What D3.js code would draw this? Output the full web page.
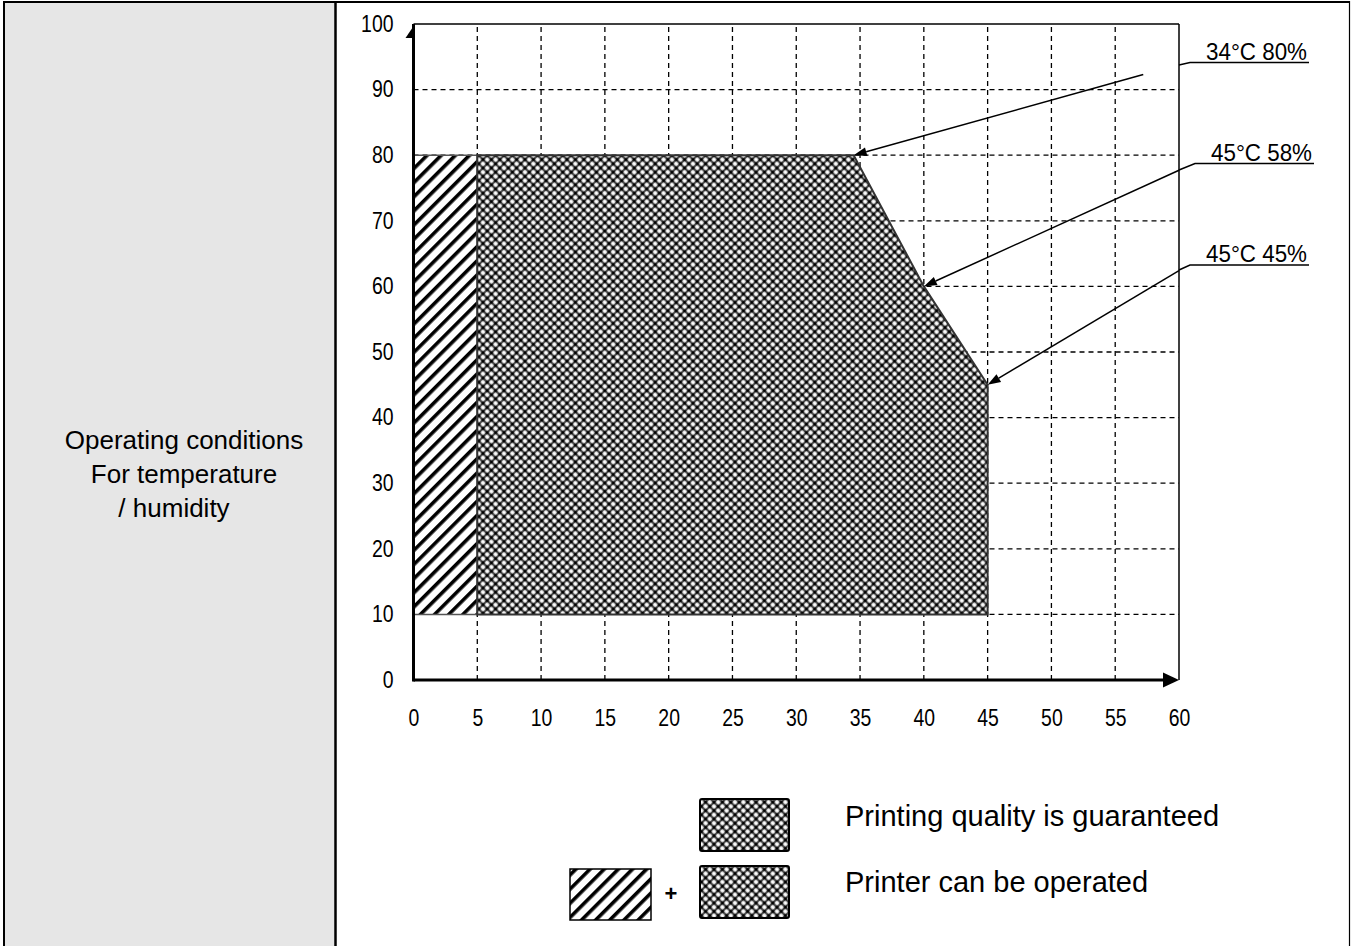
<!DOCTYPE html>
<html>
<head>
<meta charset="utf-8">
<script src="https://cdn.jsdelivr.net/npm/d3@7"></script>
<style>
  body { margin: 0; background: #fff; }
  svg { display: block; }
</style>
</head>
<body>
<div id="chart"></div>
<script>
// Taille de la page
const width = 1351;
const height = 946;

// Axes
const xTicks = [0, 5, 10, 15, 20, 25, 30, 35, 40, 45, 50, 55, 60];
const yTicks = [0, 10, 20, 30, 40, 50, 60, 70, 80, 90, 100];

// Zones (temperature °C, humidité %)
const operableZone = [[0, 10], [0, 80], [5, 80], [5, 10]];
const qualityZone = [[5, 10], [5, 80], [34.5, 80], [40, 60], [45, 45], [45, 10]];

// Annotations
const annoLabels = ["34°C 80%", "45°C 58%", "45°C 45%"];
const annoTargets = [[34.5, 80], [40, 60], [45, 45]];
const annoTails = [[57.2, 92.3], [60, 77.7], [60, 62.4]];

// Légende et libellés
const rowLabel = ["Operating conditions", "For temperature", "/ humidity"];
const legendLabels = ["Printing quality is guaranteed", "Printer can be operated"];

const numFont = "'Liberation Sans', Arial, sans-serif";
const textFont = "'Liberation Sans', Arial, sans-serif";

const svg = d3.select("#chart")
  .append("svg")
  .attr("width", width)
  .attr("height", height);

// Motifs de remplissage
const defs = svg.append("defs");

const hatch = defs.append("pattern")
  .attr("id", "hatch")
  .attr("patternUnits", "userSpaceOnUse")
  .attr("width", 10)
  .attr("height", 10)
  .attr("patternTransform", "rotate(45)");
hatch.append("rect").attr("width", 10).attr("height", 10).attr("fill", "#fff");
hatch.append("rect").attr("x", 0).attr("width", 3.6).attr("height", 10).attr("fill", "#000");

const s = 8.4 / Math.SQRT2;
const cross = defs.append("pattern")
  .attr("id", "cross")
  .attr("patternUnits", "userSpaceOnUse")
  .attr("width", s)
  .attr("height", s)
  .attr("patternTransform", "rotate(45)");
cross.append("rect").attr("width", s).attr("height", s).attr("fill", "#fff");
cross.append("path")
  .attr("d", `M0,${s / 2}H${s}M${s / 2},0V${s}`)
  .attr("stroke", "#4d4d4d")
  .attr("stroke-width", 2.3);
cross.append("circle")
  .attr("cx", s / 2).attr("cy", s / 2).attr("r", 1.7)
  .attr("fill", "#000");

// Tableau (cellule grise à gauche)
svg.append("rect")
  .attr("x", 5).attr("y", 3)
  .attr("width", 330).attr("height", height - 3)
  .attr("fill", "#e6e6e6");

svg.append("line").attr("x1", 3).attr("x2", 1350).attr("y1", 2).attr("y2", 2)
  .attr("stroke", "#000").attr("stroke-width", 2);
svg.append("line").attr("x1", 4).attr("x2", 4).attr("y1", 1).attr("y2", height)
  .attr("stroke", "#000").attr("stroke-width", 2);
svg.append("line").attr("x1", 335.5).attr("x2", 335.5).attr("y1", 1).attr("y2", height)
  .attr("stroke", "#000").attr("stroke-width", 2.5);
svg.append("line").attr("x1", 1349.5).attr("x2", 1349.5).attr("y1", 1).attr("y2", height)
  .attr("stroke", "#000").attr("stroke-width", 1.2);

svg.append("text")
  .attr("y", 449)
  .attr("text-anchor", "middle")
  .attr("font-family", textFont)
  .attr("font-size", "26px")
  .attr("fill", "#000")
  .selectAll("tspan")
  .data(rowLabel)
  .enter()
  .append("tspan")
  .attr("x", (d, i) => i === 2 ? 174 : 184)
  .attr("dy", (d, i) => i === 0 ? 0 : 34)
  .text(d => d);

// Échelles
const x = d3.scaleLinear().domain([0, 60]).range([413.5, 1179]);
const y = d3.scaleLinear().domain([0, 100]).range([680, 24]);

// Grille en pointillés
svg.selectAll("line.vgrid")
  .data(xTicks.slice(1, -1))
  .enter()
  .append("line")
  .attr("class", "vgrid")
  .attr("x1", d => x(d)).attr("x2", d => x(d))
  .attr("y1", y(0)).attr("y2", y(100))
  .attr("stroke", "#000")
  .attr("stroke-width", 1.3)
  .attr("stroke-dasharray", "5,4");

svg.selectAll("line.hgrid")
  .data(yTicks.slice(1, -1))
  .enter()
  .append("line")
  .attr("class", "hgrid")
  .attr("x1", x(0)).attr("x2", x(60))
  .attr("y1", d => y(d)).attr("y2", d => y(d))
  .attr("stroke", "#000")
  .attr("stroke-width", 1.3)
  .attr("stroke-dasharray", "5,4");

// Zones
const line = d3.line().x(d => x(d[0])).y(d => y(d[1]));

svg.append("path")
  .attr("d", line(operableZone) + "Z")
  .attr("fill", "url(#hatch)")
  .attr("stroke", "#555")
  .attr("stroke-width", 1.5);

svg.append("path")
  .attr("d", line(qualityZone) + "Z")
  .attr("fill", "url(#cross)")
  .attr("stroke", "#333")
  .attr("stroke-width", 2);

// Cadre et axes
svg.append("line")
  .attr("x1", x(0)).attr("x2", x(60))
  .attr("y1", y(100)).attr("y2", y(100))
  .attr("stroke", "#000").attr("stroke-width", 1.5);
svg.append("line")
  .attr("x1", x(60)).attr("x2", x(60))
  .attr("y1", y(100)).attr("y2", y(0))
  .attr("stroke", "#000").attr("stroke-width", 1.5);

svg.append("line")
  .attr("x1", x(0)).attr("x2", x(0))
  .attr("y1", y(0) + 1.5).attr("y2", y(100))
  .attr("stroke", "#000").attr("stroke-width", 3);
svg.append("path")
  .attr("d", `M${x(0) + 1.5},${y(100)}L${x(0) - 8},${y(100) + 14}L${x(0) + 1.5},${y(100) + 14}Z`)
  .attr("fill", "#000");

svg.append("line")
  .attr("x1", x(0)).attr("x2", x(60) - 12)
  .attr("y1", y(0)).attr("y2", y(0))
  .attr("stroke", "#000").attr("stroke-width", 3);
svg.append("path")
  .attr("d", `M${x(60)},${y(0)}L${x(60) - 16},${y(0) - 7.5}L${x(60) - 16},${y(0) + 7.5}Z`)
  .attr("fill", "#000");

// Libellés des axes
const xAxis = svg.append("g")
  .attr("transform", `translate(0,${y(0)})`)
  .call(d3.axisBottom(x).tickValues(xTicks).tickSize(0).tickPadding(30));
const yAxis = svg.append("g")
  .attr("transform", `translate(${x(0)},0)`)
  .call(d3.axisLeft(y).tickValues(yTicks).tickSize(0).tickPadding(20));

[xAxis, yAxis].forEach(g => {
  g.select(".domain").remove();
  g.selectAll("text")
    .attr("font-family", numFont)
    .attr("font-size", "23px")
    .attr("textLength", d => String(d).length * 10.8)
    .attr("lengthAdjust", "spacingAndGlyphs")
    .attr("fill", "#000");
});

// Annotations avec flèches
annoLabels.forEach((label, i) => {
  const t = annoTargets[i];
  const tail = annoTails[i];
  const x1 = x(tail[0]), y1 = y(tail[1]);
  const x2 = x(t[0]), y2 = y(t[1]);
  const ang = Math.atan2(y2 - y1, x2 - x1);
  const len = 13, half = 4.5;
  const bx = x2 - len * Math.cos(ang), by = y2 - len * Math.sin(ang);

  svg.append("line")
    .attr("x1", x1).attr("y1", y1)
    .attr("x2", bx).attr("y2", by)
    .attr("stroke", "#000").attr("stroke-width", 1.5);
  svg.append("path")
    .attr("d", `M${x2},${y2}L${bx - half * Math.sin(ang)},${by + half * Math.cos(ang)}L${bx + half * Math.sin(ang)},${by - half * Math.cos(ang)}Z`)
    .attr("fill", "#000");
});

const underY = [62.5, 163.5, 265];
const underX0 = [1190, 1195, 1190];
const stubY = [65, 170, 270];
annoLabels.forEach((label, i) => {
  svg.append("path")
    .attr("d", `M${x(60)},${stubY[i]}L${underX0[i]},${underY[i]}H${underX0[i] + 119}`)
    .attr("fill", "none")
    .attr("stroke", "#000").attr("stroke-width", 1.5);
  svg.append("text")
    .attr("x", underX0[i] + 16)
    .attr("y", underY[i] - 3)
    .attr("font-family", numFont)
    .attr("font-size", "23px")
    .attr("textLength", 101)
    .attr("lengthAdjust", "spacingAndGlyphs")
    .attr("fill", "#000")
    .text(label);
});

// Légende
svg.append("rect")
  .attr("x", 700).attr("y", 799).attr("width", 89).attr("height", 52)
  .attr("fill", "url(#cross)").attr("stroke", "#000").attr("stroke-width", 2).attr("rx", 2);
svg.append("rect")
  .attr("x", 700).attr("y", 866).attr("width", 89).attr("height", 52)
  .attr("fill", "url(#cross)").attr("stroke", "#000").attr("stroke-width", 2).attr("rx", 2);
svg.append("rect")
  .attr("x", 570).attr("y", 869).attr("width", 81).attr("height", 51)
  .attr("fill", "url(#hatch)").attr("stroke", "#000").attr("stroke-width", 1.5);
svg.append("text")
  .attr("x", 671).attr("y", 901)
  .attr("text-anchor", "middle")
  .attr("font-family", textFont)
  .attr("font-weight", "bold")
  .attr("font-size", "22px")
  .text("+");

svg.selectAll("text.legend")
  .data(legendLabels)
  .enter()
  .append("text")
  .attr("class", "legend")
  .attr("x", 845)
  .attr("y", (d, i) => i === 0 ? 826 : 892)
  .attr("font-family", textFont)
  .attr("font-size", "29px")
  .attr("fill", "#000")
  .text(d => d);
</script>
</body>
</html>
